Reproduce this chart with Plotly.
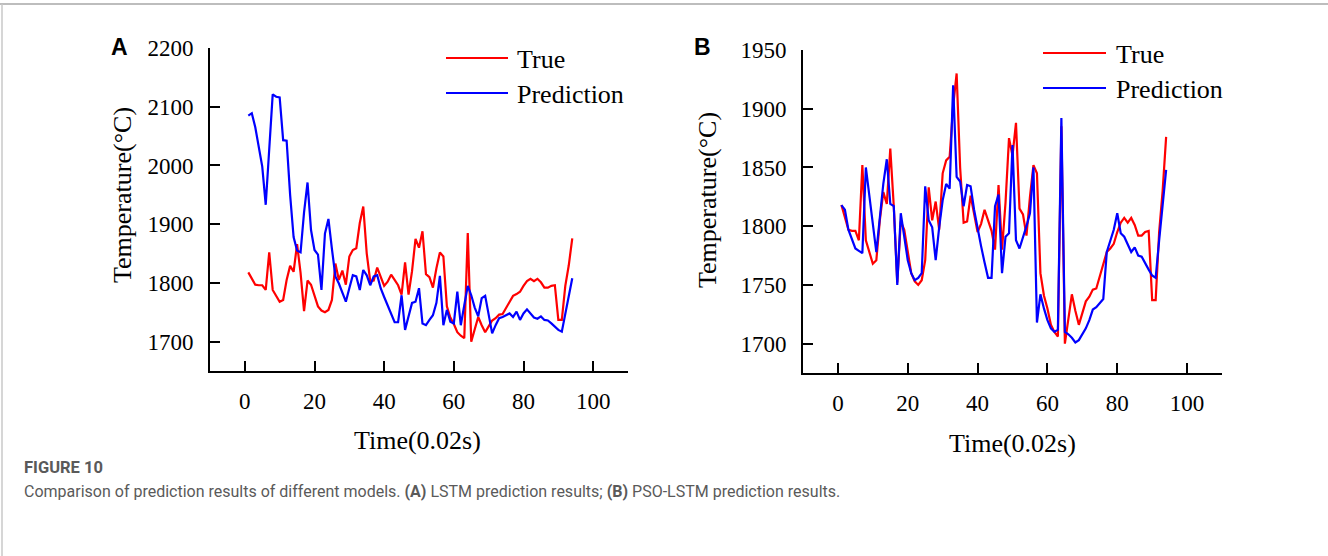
import plotly.graph_objects as go

W, H = 1328, 556

time_steps = list(range(1, 95))

true_temp = [
    1818, 1808, 1797, 1796, 1796, 1788, 1852, 1788, 1777, 1768,
    1771, 1805, 1829, 1819, 1866, 1817, 1752, 1804, 1797, 1780,
    1760, 1753, 1750, 1754, 1771, 1833, 1805, 1821, 1797, 1845,
    1856, 1859, 1902, 1930, 1850, 1803, 1804, 1826, 1810, 1795,
    1802, 1814, 1805, 1796, 1780, 1835, 1780, 1820, 1875, 1860,
    1888, 1815, 1810, 1792, 1825, 1852, 1845, 1760, 1741, 1730,
    1716, 1710, 1706, 1885, 1700, 1722, 1742, 1728, 1716, 1726,
    1736, 1740, 1746, 1747, 1757, 1768, 1778, 1781, 1785, 1795,
    1803, 1807, 1803, 1807, 1801, 1792, 1792, 1795, 1796, 1737,
    1737, 1795, 1830, 1876,
]

lstm_pred = [
    2085, 2089, 2065, 2031, 1998, 1933, 2031, 2121, 2117, 2116,
    2043, 2042, 1950, 1878, 1855, 1852, 1920, 1971, 1890, 1856,
    1848, 1788, 1884, 1909, 1858, 1811, 1799, 1782, 1768, 1791,
    1813, 1811, 1788, 1822, 1813, 1796, 1811, 1813, 1791, 1776,
    1762, 1748, 1733, 1733, 1779, 1720, 1743, 1766, 1768, 1791,
    1731, 1728, 1737, 1745, 1766, 1812, 1728, 1754, 1734, 1731,
    1785, 1728, 1762, 1795, 1779, 1758, 1743, 1774, 1778, 1748,
    1714, 1728, 1740, 1742, 1745, 1748, 1742, 1751, 1737, 1748,
    1755, 1748, 1741, 1739, 1743, 1737, 1736, 1731, 1725, 1720,
    1717, 1748, 1777, 1808,
]

pso_lstm_pred = [
    1818, 1814, 1797, 1788, 1781, 1779, 1777, 1850, 1827, 1804,
    1778, 1807, 1836, 1857, 1819, 1817, 1750, 1811, 1791, 1771,
    1760, 1754, 1756, 1760, 1834, 1805, 1799, 1771, 1799, 1822,
    1836, 1832, 1920, 1842, 1838, 1817, 1835, 1834, 1814, 1797,
    1783, 1769, 1756, 1756, 1817, 1827, 1760, 1791, 1794, 1869,
    1788, 1781, 1790, 1800, 1811, 1850, 1718, 1742, 1730, 1720,
    1713, 1710, 1712, 1892, 1710, 1708, 1705, 1701, 1703, 1708,
    1713, 1720, 1729, 1731, 1735, 1738, 1778, 1788, 1797, 1811,
    1794, 1791, 1784, 1778, 1782, 1775, 1774, 1768, 1763, 1758,
    1756, 1788, 1819, 1848,
]

x_ticks = [0, 20, 40, 60, 80, 100]
y_ticks_a = [1700, 1800, 1900, 2000, 2100, 2200]
y_ticks_b = [1700, 1750, 1800, 1850, 1900, 1950]

RED = "#ff0000"
BLUE = "#0000ff"
SERIF = "Times New Roman, Liberation Serif, serif"
SANS = "Roboto, Noto Sans, sans-serif"


def px(x):
    return x / W


def py(y):
    return 1 - y / H


fig = go.Figure()
fig.add_trace(go.Scatter(x=time_steps, y=true_temp, mode="lines", line=dict(color=RED, width=2.2),
                         name="True", xaxis="x", yaxis="y", showlegend=False))
fig.add_trace(go.Scatter(x=time_steps, y=lstm_pred, mode="lines", line=dict(color=BLUE, width=2.2),
                         name="Prediction", xaxis="x", yaxis="y", showlegend=False))
fig.add_trace(go.Scatter(x=time_steps, y=true_temp, mode="lines", line=dict(color=RED, width=2.2),
                         name="True", xaxis="x2", yaxis="y2", showlegend=False))
fig.add_trace(go.Scatter(x=time_steps, y=pso_lstm_pred, mode="lines", line=dict(color=BLUE, width=2.2),
                         name="Prediction", xaxis="x2", yaxis="y2", showlegend=False))

axis_common = dict(showline=True, linewidth=2, linecolor="black", ticks="inside", ticklen=10,
                   tickwidth=2, tickcolor="black", showgrid=False, zeroline=False, automargin=False,
                   tickfont=dict(family=SERIF, size=23, color="black"), mirror=False)

fig.update_layout(
    template="none",
    width=W, height=H,
    margin=dict(l=0, r=0, t=0, b=0, pad=0, autoexpand=False),
    paper_bgcolor="white", plot_bgcolor="white",
    xaxis=dict(domain=[px(210), px(628)], range=[-10, 110], tickvals=x_ticks, anchor="y",
               ticklabelstandoff=8, **axis_common),
    yaxis=dict(domain=[py(371), py(48)], range=[1650, 2200], tickvals=y_ticks_a, anchor="x",
               ticklabelstandoff=10, **axis_common),
    xaxis2=dict(domain=[px(803), px(1222)], range=[-10, 110], tickvals=x_ticks, anchor="y2",
                ticklabelstandoff=8, **axis_common),
    yaxis2=dict(domain=[py(373), py(50)], range=[1675, 1950], tickvals=y_ticks_b, anchor="x2",
                ticklabelstandoff=10, **axis_common),
)

shapes = []
annotations = []


def text(x, y, s, size, family=SERIF, color="black", xanchor="center", angle=0, bold=False):
    if bold:
        s = "<b>" + s + "</b>"
    annotations.append(dict(x=px(x), y=py(y), xref="paper", yref="paper", text=s, showarrow=False,
                            font=dict(family=family, size=size, color=color), xanchor=xanchor,
                            yanchor="middle", textangle=angle))


# axis titles
text(122, 195, "Temperature(°C)", 26, angle=-90)
text(707, 200, "Temperature(°C)", 26, angle=-90)
text(418, 440, "Time(0.02s)", 26)
text(1012, 443, "Time(0.02s)", 26)

# panel letters
text(119, 47, "A", 23, family="Arial, Liberation Sans, sans-serif", bold=True)
text(702, 47, "B", 23, family="Arial, Liberation Sans, sans-serif", bold=True)

# legends
for (lx0, lx1, tx, y_true, y_pred) in [(446, 508, 515, 58, 93), (1043, 1106, 1114, 53, 88)]:
    shapes.append(dict(type="line", xref="paper", yref="paper", x0=px(lx0), x1=px(lx1),
                       y0=py(y_true), y1=py(y_true), line=dict(color=RED, width=2.2)))
    shapes.append(dict(type="line", xref="paper", yref="paper", x0=px(lx0), x1=px(lx1),
                       y0=py(y_pred), y1=py(y_pred), line=dict(color=BLUE, width=2.2)))
    text(tx, y_true + 1, "True", 26, xanchor="left")
    text(tx, y_pred + 1, "Prediction", 26, xanchor="left")

# caption
CAP = "#5a5a5a"
text(22, 467, "FIGURE 10", 16.5, family=SANS, color=CAP, xanchor="left", bold=True)
text(22, 491, "Comparison of prediction results of different models. <b>(A)</b> LSTM prediction results; "
              "<b>(B)</b> PSO-LSTM prediction results.", 16, family=SANS, color=CAP, xanchor="left")

# card border (top and left edges)
shapes.append(dict(type="line", xref="paper", yref="paper", x0=0, x1=1, y0=py(4), y1=py(4),
                   line=dict(color="#bdbdbd", width=2)))
shapes.append(dict(type="line", xref="paper", yref="paper", x0=px(2), x1=px(2), y0=py(4), y1=0,
                   line=dict(color="#c8c8c8", width=1.5)))

fig.update_layout(shapes=shapes, annotations=annotations)

fig.write_html("out.html")
